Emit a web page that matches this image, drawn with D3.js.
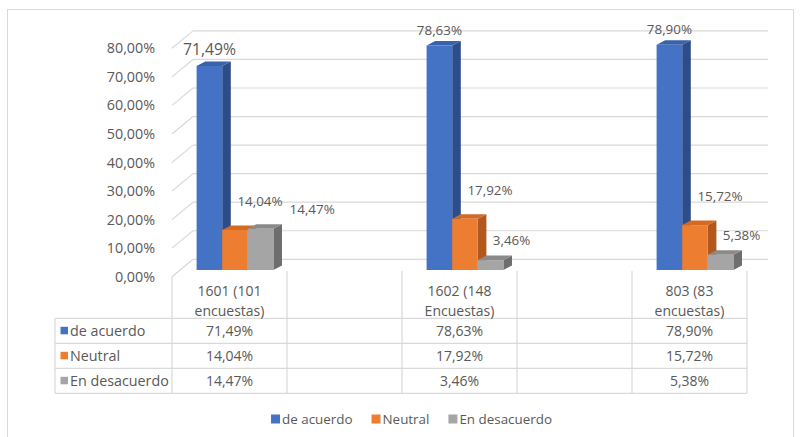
<!DOCTYPE html>
<html><head><meta charset="utf-8">
<script src="https://cdn.jsdelivr.net/npm/d3@7/dist/d3.min.js"></script>
<style>
html,body{margin:0;padding:0;background:#fff;}
svg{display:block;font-family:"Open Sans",sans-serif;}
</style></head>
<body>
<svg id="c" width="800" height="437"></svg>
<script>
// ---- data ----
const categories = ["1601 (101|encuestas)", "", "1602 (148|Encuestas)", " ", "803 (83|encuestas)"];
const series = ["de acuerdo", "Neutral", "En desacuerdo"];
const deAcuerdo     = [71.49, null, 78.63, null, 78.90];
const neutral       = [14.04, null, 17.92, null, 15.72];
const enDesacuerdo  = [14.47, null, 3.46, null, 5.38];
const yTicks = [0, 10, 20, 30, 40, 50, 60, 70, 80];

const values = [deAcuerdo, neutral, enDesacuerdo];
const colors = [
  {front:"#4472c4", side:"#2c4d8a", top:"#3a62aa"},
  {front:"#ed7d31", side:"#b3581c", top:"#d46a22"},
  {front:"#a5a5a5", side:"#6e6e6e", top:"#8a8a8a"}
];
const txt = "#595959", grid = "#d9d9d9";
const fmt = v => d3.format(".2f")(v).replace(".", ",") + "%";

const svg = d3.select("#c");

// chart border
svg.append("rect").attr("x",7.5).attr("y",9.5).attr("width",786).attr("height",440)
  .attr("fill","none").attr("stroke","#d9d9d9");

const x = d3.scaleBand().domain(categories).range([172, 747]);
const y = d3.scaleLinear().domain([0, 80]).range([276.7, 48.3]);
const wall = {dx: 21, dy: -17.4};   // depth of the 3D box
const front = {dx: 5.5, dy: -6.7};  // bar front plane
const bdep = {dx: 8.6, dy: -4.5};   // bar depth
const xs = d3.scaleBand().domain(series).range([0, x.bandwidth()]).paddingOuter(0.746);

// gridlines: left wall diagonal + back wall
const g = svg.append("g");
yTicks.forEach(t => {
  const yf = y(t), yb = y(t) + wall.dy;
  g.append("line").attr("x1",172).attr("y1",yf).attr("x2",172+wall.dx).attr("y2",yb)
    .attr("stroke",grid).attr("stroke-width",1.2);
  g.append("line").attr("x1",172+wall.dx).attr("y1",yb).attr("x2",747+wall.dx).attr("y2",yb)
    .attr("stroke",grid).attr("stroke-width",1.2);
  g.append("text").attr("x",155).attr("y",yf).attr("dy","0.35em").attr("text-anchor","end")
    .attr("font-size",14.3).attr("fill",txt).text(fmt(t));
});

// table lines
const rowsY = [318.3, 343.3, 368.3, 393.3];
const tl = svg.append("g").attr("stroke", grid).attr("stroke-width",1.2);
rowsY.forEach(r => tl.append("line").attr("x1",55).attr("x2",747).attr("y1",r).attr("y2",r));
tl.append("line").attr("x1",55).attr("x2",55).attr("y1",rowsY[0]).attr("y2",rowsY[3]);
categories.forEach((c,i) => {
  const xx = x(c);
  tl.append("line").attr("x1",xx).attr("x2",xx).attr("y1", i===0 ? y(0) : 271).attr("y2",rowsY[3]);
});
tl.append("line").attr("x1",747).attr("x2",747).attr("y1",271).attr("y2",rowsY[3]);

// bars
const bars = svg.append("g");
const labels = [];
categories.forEach((c,ci) => {
  series.forEach((s,si) => {
    const v = values[si][ci];
    if (v == null) return;
    const x0 = x(c) + xs(s) + front.dx, x1 = x0 + xs.bandwidth();
    const yt = y(v) + front.dy, yb = y(0) + front.dy;
    const col = colors[si];
    bars.append("polygon").attr("points", [[x1,yt],[x1+bdep.dx,yt+bdep.dy],[x1+bdep.dx,yb+bdep.dy],[x1,yb]].join(" "))
      .attr("fill", col.side);
    bars.append("polygon").attr("points", [[x0,yt],[x1,yt],[x1+bdep.dx,yt+bdep.dy],[x0+bdep.dx,yt+bdep.dy]].join(" "))
      .attr("fill", col.top);
    bars.append("rect").attr("x",x0).attr("y",yt).attr("width",x1-x0).attr("height",yb-yt).attr("fill",col.front);
    labels.push({ci, si, v, cx:(x0+x1)/2, yt});
  });
});

// data labels
const lg = svg.append("g").attr("fill", txt);
const prevBox = {};
labels.forEach(l => {
  let lx, ly, fs = 13.4, anchor = "middle";
  if (l.si === 0) { lx = l.cx; ly = l.yt - 11; if (l.ci === 0) fs = 15.7; }
  else if (l.si === 1) { lx = l.cx + 25; ly = l.yt - 24; }
  else { lx = l.cx + 21; ly = l.yt - 15; }
  const t = lg.append("text").attr("x",lx).attr("y",ly).attr("text-anchor",anchor)
    .attr("font-size",fs).text(fmt(l.v));
  if (l.si === 2 && prevBox[l.ci]) {
    const bb = t.node().getBBox(), pb = prevBox[l.ci];
    if (bb.x < pb.x + pb.width + 7 && bb.y < pb.y + pb.height && bb.y + bb.height > pb.y) {
      t.attr("x", pb.x + pb.width + 7 + bb.width/2);
    }
  }
  if (l.si === 1) prevBox[l.ci] = t.node().getBBox();
});

// table header text
const tt = svg.append("g").attr("fill", txt).attr("font-size", 14).attr("text-anchor","middle");
categories.forEach(c => {
  if (!c.trim()) return;
  const parts = c.split("|");
  const cx = x(c) + x.bandwidth()/2;
  tt.append("text").attr("x",cx).attr("y",290.7).attr("dy","0.35em").text(parts[0]);
  tt.append("text").attr("x",cx).attr("y",310.7).attr("dy","0.35em").text(parts[1]);
});
series.forEach((s,si) => {
  const cy = (rowsY[si] + rowsY[si+1]) / 2;
  svg.append("rect").attr("x",60.5).attr("y",cy-4).attr("width",7.5).attr("height",7.5).attr("fill",colors[si].front);
  svg.append("text").attr("x",70).attr("y",cy).attr("dy","0.35em").attr("font-size",14.3).attr("fill",txt).text(s);
  categories.forEach((c,ci) => {
    const v = values[si][ci];
    if (v == null) return;
    tt.append("text").attr("x", x(c) + x.bandwidth()/2).attr("y",cy).attr("dy","0.35em").text(fmt(v));
  });
});

// legend
const leg = svg.append("g");
let lxPos = 0;
const items = [];
series.forEach((s,si) => {
  const it = leg.append("g");
  it.append("rect").attr("x",0).attr("y",-4.5).attr("width",9).attr("height",9).attr("fill",colors[si].front);
  const t = it.append("text").attr("x",11).attr("y",0).attr("dy","0.35em").attr("font-size",13.4).attr("fill",txt).text(s);
  const w = 11 + t.node().getComputedTextLength();
  it.attr("transform", `translate(${lxPos},0)`);
  lxPos += w + 19;
});
const totalW = lxPos - 19;
leg.attr("transform", `translate(${411.5 - totalW/2},419)`);
</script>
</body></html>
